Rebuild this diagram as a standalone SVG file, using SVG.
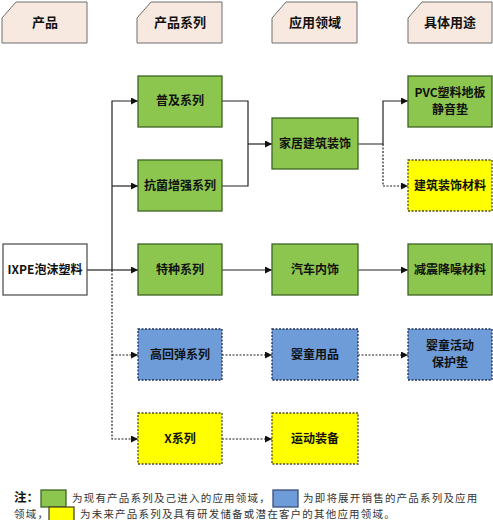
<svg xmlns="http://www.w3.org/2000/svg" width="493" height="520" viewBox="0 0 493 520">
<defs>
<marker id="ah" viewBox="0 0 10 10" refX="10" refY="5" markerWidth="7" markerHeight="7" markerUnits="userSpaceOnUse" orient="auto">
<path d="M0,0 L10,5 L0,10 z" fill="#111"/>
</marker>
</defs>
<style>
.tab{fill:#f7e9df;stroke:#6e6e6e;stroke-width:1}
.th{font-family:"Noto Sans CJK SC","Noto Sans",sans-serif;font-size:13px;font-weight:bold;fill:#111;text-anchor:middle}
.nt{font-family:"Noto Sans CJK SC","Noto Sans",sans-serif;font-size:12px;font-weight:bold;fill:#111;text-anchor:middle}
.g{fill:#8dc64e;stroke:#3e6422;stroke-width:1.3}
.b{fill:#6d9cd9;stroke:#1f2f55;stroke-width:1.3;stroke-dasharray:2,1.5}
.y{fill:#ffff00;stroke:#4a4a20;stroke-width:1.3;stroke-dasharray:2,1.5}
.w{fill:#fff;stroke:#555;stroke-width:1.3}
.c{fill:none;stroke:#222;stroke-width:1.2}
.cd{fill:none;stroke:#222;stroke-width:1.2;stroke-dasharray:2,1.5}
.lg{font-family:"Noto Sans CJK SC","Noto Sans",sans-serif;font-size:10.5px;letter-spacing:1.2px;fill:#333}
</style>
<rect width="493" height="520" fill="#ffffff"/>
<g id="headers">
<g id="h1"><polygon class="tab" points="2,18 16,2 87,2 87,43 2,43"/><text class="th" x="45" y="27">产品</text></g>
<g id="h2"><polygon class="tab" points="137,18 151,2 222,2 222,43 137,43"/><text class="th" x="180" y="27">产品系列</text></g>
<g id="h3"><polygon class="tab" points="272,18 286,2 357,2 357,43 272,43"/><text class="th" x="315" y="27">应用领域</text></g>
<g id="h4"><polygon class="tab" points="408,18 422,2 492,2 492,43 408,43"/><text class="th" x="450" y="27">具体用途</text></g>
</g>
<g id="connectors">
<path class="c" d="M87,270 H112"/>
<path class="c" d="M112,270 V101 H138" marker-end="url(#ah)"/>
<path class="c" d="M112,186 H138" marker-end="url(#ah)"/>
<path class="c" d="M112,270 H138" marker-end="url(#ah)"/>
<path class="cd" d="M112,270 V439 H138" marker-end="url(#ah)"/>
<path class="cd" d="M112,355 H138" marker-end="url(#ah)"/>
<path class="c" d="M222,101 H248 V186 H222"/>
<path class="c" d="M248,144 H272" marker-end="url(#ah)"/>
<path class="c" d="M358,144 H383 V101 H408" marker-end="url(#ah)"/>
<path class="cd" d="M383,144 V186 H408" marker-end="url(#ah)"/>
<path class="c" d="M222,270 H272" marker-end="url(#ah)"/>
<path class="c" d="M358,270 H408" marker-end="url(#ah)"/>
<path class="cd" d="M222,355 H272" marker-end="url(#ah)"/>
<path class="cd" d="M358,355 H408" marker-end="url(#ah)"/>
<path class="cd" d="M222,439 H272" marker-end="url(#ah)"/>
</g>
<g id="n_ixpe"><rect class="w" x="3" y="244" width="84" height="51"/><text class="nt" x="45" y="274">IXPE泡沫塑料</text></g>
<g id="n_puji"><rect class="g" x="138" y="76" width="84" height="51"/><text class="nt" x="180" y="105">普及系列</text></g>
<g id="n_kangjun"><rect class="g" x="138" y="160" width="84" height="51"/><text class="nt" x="180" y="190">抗菌增强系列</text></g>
<g id="n_tezhong"><rect class="g" x="138" y="244" width="84" height="51"/><text class="nt" x="180" y="274">特种系列</text></g>
<g id="n_gaohuitan"><rect class="b" x="138" y="329" width="84" height="51"/><text class="nt" x="180" y="359">高回弹系列</text></g>
<g id="n_x"><rect class="y" x="138" y="413" width="84" height="51"/><text class="nt" x="180" y="443">X系列</text></g>
<g id="n_jiaju"><rect class="g" x="272" y="118" width="86" height="51"/><text class="nt" x="315" y="148">家居建筑装饰</text></g>
<g id="n_qiche"><rect class="g" x="272" y="244" width="86" height="51"/><text class="nt" x="315" y="274">汽车内饰</text></g>
<g id="n_yingtong"><rect class="b" x="272" y="329" width="86" height="51"/><text class="nt" x="315" y="359">婴童用品</text></g>
<g id="n_yundong"><rect class="y" x="272" y="413" width="86" height="51"/><text class="nt" x="315" y="443">运动装备</text></g>
<g id="n_pvc"><rect class="g" x="408" y="76" width="84" height="51"/><text class="nt" x="450" y="97">PVC塑料地板</text><text class="nt" x="450" y="114">静音垫</text></g>
<g id="n_jianzhu"><rect class="y" x="408" y="160" width="84" height="51"/><text class="nt" x="450" y="190">建筑装饰材料</text></g>
<g id="n_jianzhen"><rect class="g" x="408" y="244" width="84" height="51"/><text class="nt" x="450" y="274">减震降噪材料</text></g>
<g id="n_baohu"><rect class="b" x="408" y="329" width="84" height="51"/><text class="nt" x="450" y="350">婴童活动</text><text class="nt" x="450" y="367">保护垫</text></g>
<g id="legend">
<text x="14" y="501.5" font-family="'Noto Sans CJK SC',sans-serif" font-size="12.5" font-weight="bold" fill="#111">注：</text>
<rect class="g" x="41" y="490" width="25" height="17"/>
<text class="lg" x="72" y="502">为现有产品系列及己进入的应用领域，</text>
<rect class="b" x="273" y="490" width="25" height="17" style="stroke-dasharray:none;stroke:#3a4f7a"/>
<text class="lg" x="303" y="502">为即将展开销售的产品系列及应用</text>
<text class="lg" x="14" y="517.5">领域，</text>
<rect class="y" x="49" y="507" width="25" height="17" style="stroke-dasharray:none"/>
<text class="lg" x="80" y="517.5">为未来产品系列及具有研发储备或潜在客户的其他应用领域。</text>
</g>
</svg>
